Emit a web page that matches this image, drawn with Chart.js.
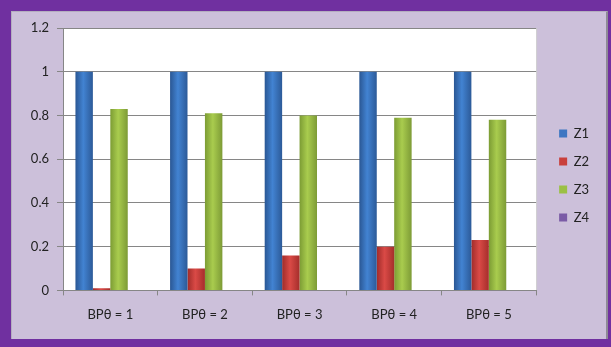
<!DOCTYPE html>
<html>
<head>
<meta charset="utf-8">
<script src="https://cdn.jsdelivr.net/npm/chart.js@4.4.1/dist/chart.umd.min.js"></script>
<style>
  html, body { margin: 0; padding: 0; }
  body { width: 611px; height: 347px; background: #7030A0; position: relative; overflow: hidden; }
  #panel { position: absolute; left: 11px; top: 11px; width: 594px; height: 327px; background: #CCC0DA;
           border-left: 1px solid #B4AEBF; border-top: 1px solid #B4AEBF; border-right: 2px solid #8E8A96; }
  #wrap { position: absolute; left: 0; top: 0; width: 611px; height: 347px; }
</style>
</head>
<body>
<div id="panel"></div>
<div id="wrap"><canvas id="c" width="611" height="347"></canvas></div>
<script>
const categories = ["BPθ = 1", "BPθ = 2", "BPθ = 3", "BPθ = 4", "BPθ = 5"];
const seriesNames = ["Z1", "Z2", "Z3", "Z4"];
const z1 = [1, 1, 1, 1, 1];
const z2 = [0.01, 0.10, 0.16, 0.20, 0.23];
const z3 = [0.83, 0.81, 0.80, 0.79, 0.78];
const z4 = [0, 0, 0, 0, 0];
const yTicks = [0, 0.2, 0.4, 0.6, 0.8, 1, 1.2];

const legendColors = ["#3D76C2", "#C9403C", "#9BC044", "#7A5BA6"];
const gradStops = [
  ["#2A5794", "#4283D2", "#2C5A98"],
  ["#A02C2A", "#DA4A46", "#A52E2B"],
  ["#7C9C34", "#A9CC4E", "#7D9B36"],
  ["#5E4482", "#8A6AB6", "#5E4482"]
];
const CAT_PCT = 0.737;
const FONT = { family: 'Lato', size: 13 };

function barGradient(ctx) {
  const chart = ctx.chart;
  const xs = chart.scales && chart.scales.x;
  const ds = ctx.datasetIndex;
  if (!xs || !chart.chartArea || ctx.dataIndex === undefined) return legendColors[ds];
  const catW = (xs.right - xs.left) / categories.length;
  const groupW = catW * CAT_PCT;
  const barW = groupW / seriesNames.length;
  const center = xs.getPixelForValue(ctx.dataIndex);
  const left = center - groupW / 2 + ds * barW;
  const g = chart.ctx.createLinearGradient(left, 0, left + barW, 0);
  const s = gradStops[ds];
  g.addColorStop(0, s[0]);
  g.addColorStop(0.45, s[1]);
  g.addColorStop(1, s[2]);
  return g;
}

const plotBg = {
  id: 'plotBg',
  afterLayout(chart) {
    const lg = chart.legend;
    if (lg) { lg.left += 8; lg.right += 8; lg.top -= 6; lg.bottom -= 6; }
  },
  beforeDraw(chart) {
    const a = chart.chartArea, c = chart.ctx;
    c.save();
    c.fillStyle = '#FFFFFF';
    c.fillRect(a.left, a.top, a.right - a.left, a.bottom - a.top);
    c.strokeStyle = '#D0D0D0';
    c.lineWidth = 1;
    c.beginPath();
    c.moveTo(a.right + 0.5, a.top);
    c.lineTo(a.right + 0.5, a.bottom);
    c.stroke();
    c.restore();
  }
};

const datasets = [z1, z2, z3, z4].map((d, i) => ({
  label: seriesNames[i],
  data: d,
  backgroundColor: barGradient,
  borderWidth: 0,
  categoryPercentage: CAT_PCT,
  barPercentage: 1.0
}));

new Chart(document.getElementById('c'), {
  type: 'bar',
  data: { labels: categories, datasets },
  plugins: [plotBg],
  options: {
    responsive: false,
    animation: false,
    devicePixelRatio: 1,
    layout: { padding: { left: 15, top: 28, right: 20, bottom: 12 } },
    plugins: {
      tooltip: { enabled: false },
      legend: {
        position: 'right',
        labels: {
          boxWidth: 8, boxHeight: 8, padding: 15,
          font: FONT, color: '#222',
          generateLabels: (chart) => seriesNames.map((n, i) => ({
            text: n, fillStyle: legendColors[i], strokeStyle: legendColors[i],
            lineWidth: 0, hidden: false, datasetIndex: i, fontColor: '#222'
          }))
        }
      }
    },
    scales: {
      x: {
        grid: { display: true, drawOnChartArea: false, drawTicks: true, tickLength: 5, color: '#868686', offset: true },
        border: { display: true, color: '#868686' },
        ticks: { font: FONT, color: '#222', padding: 12, maxRotation: 0 }
      },
      y: {
        min: 0, max: 1.2,
        afterBuildTicks: (s) => { s.ticks = yTicks.map(v => ({ value: v })); },
        afterFit: (s) => { s.width = 48; },
        grid: { color: '#868686', tickLength: 6, drawTicks: true },
        border: { display: true, color: '#868686' },
        ticks: { font: FONT, color: '#222', padding: 8,
                 callback: (v) => String(Math.round(v * 10) / 10) }
      }
    }
  }
});
</script>
</body>
</html>
